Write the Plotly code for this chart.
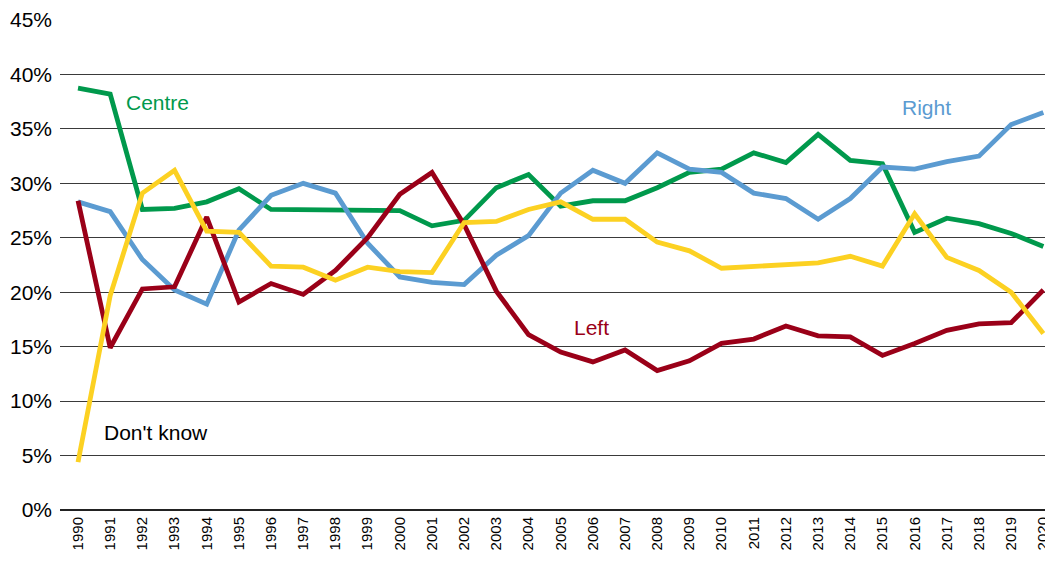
import plotly.graph_objects as go

years = list(range(1990, 2021))
centre = [38.75, 38.2, 27.6, 27.7, 28.3, 29.5, 27.6, 27.6, 27.5, 27.6, 27.5, 26.1, 26.6, 29.6, 30.8, 27.9,
          28.4, 28.4, 29.6, 31.0, 31.3, 32.8, 31.9, 34.5, 32.1, 31.8, 25.5, 26.8, 26.3, 25.4, 24.2]
right = [28.3, 27.4, 23.0, 20.2, 18.9, 25.7, 28.9, 30.0, 29.1, 24.5, 21.4, 20.9, 20.7, 23.4, 25.2, 29.1,
         31.2, 30.0, 32.8, 31.3, 31.0, 29.1, 28.6, 26.7, 28.6, 31.5, 31.3, 32.0, 32.5, 35.4, 36.5]
left = [28.4, 14.9, 20.3, 20.5, 26.9, 19.1, 20.8, 19.8, 22.0, 25.0, 29.0, 31.0, 26.2, 20.1, 16.1, 14.5,
        13.6, 14.7, 12.8, 13.7, 15.3, 15.7, 16.9, 16.0, 15.9, 14.2, 15.3, 16.5, 17.1, 17.2, 20.2]
dont_know = [4.4, 19.7, 29.1, 31.2, 25.6, 25.5, 22.4, 22.3, 21.1, 22.3, 21.9, 21.8, 26.4, 26.5, 27.6, 28.3,
             26.7, 26.7, 24.6, 23.8, 22.2, 22.4, 22.6, 22.7, 23.3, 22.4, 27.2, 23.2, 22.0, 20.0, 16.2]

series = [
    ("Centre", centre, "#00994C"),
    ("Right", right, "#5B9BD1"),
    ("Left", left, "#9A0018"),
    ("Don't know", dont_know, "#FCD122"),
]
labels = [
    ("Centre", 1991.43, 37.4, "#00994C"),
    ("Right", 2015.55, 37.0, "#5B9BD1"),
    ("Left", 2005.36, 16.8, "#9A0018"),
    ("Don't know", 1990.75, 7.16, "#000000"),
]

fig = go.Figure()
for name, vals, color in series:
    fig.add_trace(go.Scatter(x=years, y=vals, mode="lines", name=name,
                             line=dict(color=color, width=4.8), showlegend=False))

for text, x, y, color in labels:
    fig.add_annotation(x=x, y=y, text=text, showarrow=False, xanchor="left", yanchor="middle",
                       font=dict(family="Liberation Sans, Arial", size=21, color=color))

# page body has an 8px margin, so the figure is sized/offset to compensate
fig.update_layout(
    width=1045, height=557,
    margin=dict(l=52, r=0, t=12, b=55),
    paper_bgcolor="white", plot_bgcolor="white",
    font=dict(family="Liberation Sans, Arial", color="#000000"),
)
fig.update_xaxes(
    range=[1989.44, 2020.3], tickmode="array", tickvals=years,
    ticktext=[str(y) for y in years], tickangle=-90,
    tickfont=dict(size=15), showgrid=False, zeroline=False, showline=False,
    ticks="", ticklabelstandoff=3,
)
fig.update_yaxes(
    range=[0, 45], tickvals=[0, 5, 10, 15, 20, 25, 30, 35, 40, 45],
    ticktext=[f"{v}%" for v in [0, 5, 10, 15, 20, 25, 30, 35, 40, 45]],
    tickfont=dict(size=21), showgrid=True, gridcolor="#3a3a3a", gridwidth=1,
    zeroline=True, zerolinecolor="#222222", zerolinewidth=2, showline=False,
    ticks="", ticklabelstandoff=7,
)
fig.write_html("out.html")
